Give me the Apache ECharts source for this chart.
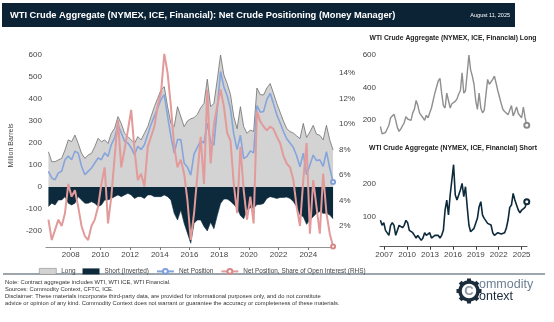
<!DOCTYPE html>
<html>
<head>
<meta charset="utf-8">
<script src="https://cdn.jsdelivr.net/npm/echarts@6/dist/echarts.min.js"></script>
<style>
html,body{margin:0;padding:0;background:#fff;}
#chart{width:554px;height:322px;}
</style>
</head>
<body>
<div id="chart"></div>
<script>
// ---- Data (roughly every 2.7 months, mid-2006 to Aug 2025) ----
const startYear = 2006.5;
const endYear = 2025.67;

// Money-manager long position, million barrels
const longVals = [160,115,115,123,130,168,214,206,236,198,
  153,130,145,153,183,221,206,214,198,244,
  267,320,289,244,229,214,198,229,214,244,
  274,320,365,403,441,456,365,289,274,365,
  320,274,300,310,315,330,360,380,490,365,
  380,486,600,510,470,420,320,265,365,274,
  244,259,252,450,420,418,450,470,426,380,
  340,300,265,252,245,232,220,289,225,250,
  280,240,235,214,280,214,168];

// Money-manager short position, million barrels (shown inverted)
const shortVals = [89,74,82,59,59,44,74,82,74,44,
  59,74,74,67,74,89,82,59,59,52,
  44,36,44,36,29,36,52,44,44,52,
  36,36,44,44,44,36,44,59,120,150,
  105,165,210,256,165,150,150,180,200,160,
  190,130,75,55,55,65,80,95,130,145,
  105,95,97,80,80,75,52,44,48,52,
  48,48,46,52,66,90,128,135,170,150,
  135,120,112,120,120,128,145];

// Net position as share of open interest, %
const shareVals = [2.5,0.9,1.7,2.5,2.0,3.0,5.3,4.3,4.8,3.5,
  2.0,1.2,0.9,2.0,2.5,3.5,5.3,6.6,2.2,4.3,
  7.4,10.3,6.6,8.0,9.5,11.1,8.0,5.6,6.1,5.1,
  8.2,9.0,9.8,11.4,12.4,15.5,14.0,11.4,8.2,6.6,
  7.2,6.1,4.0,0.9,3.0,6.0,9.0,5.3,12.7,6.9,
  10.0,11.4,12.7,11.4,9.3,8.7,5.3,3.0,8.2,4.8,
  2.5,4.3,2.2,11.0,10.2,9.8,9.5,9.8,9.6,9.0,
  8.5,7.5,6.9,6.6,5.6,3.5,2.0,5.6,8.5,1.4,
  5.6,3.5,1.4,6.1,3.0,1.4,0.4];

const mainYearTicks = [2008,2010,2012,2014,2016,2018,2020,2022,2024];
const sideYearTicks = [2007,2010,2013,2016,2019,2022,2025];
const leftTicks = [-200,-100,0,100,200,300,400,500,600];
const rightTicks = [2,4,6,8,10,12,14];
const longPanelTicks = [200,400,600];
const shortPanelTicks = [100,200];

const titleText = 'WTI Crude Aggregate (NYMEX, ICE, Financial): Net Crude Positioning (Money Manager)';
const dateText = 'August 11, 2025';
const legendNames = ['Long','Short (Inverted)','Net Position','Net Position, Share of Open Interest (RHS)'];
const footerLines = [
  'Note: Contract aggregate includes WTI, WTI ICE, WTI Financial.',
  'Sources: Commodity Context, CFTC, ICE.',
  'Disclaimer: These materials incorporate third-party data, are provided for informational purposes only, and do not constitute',
  'advice or opinion of any kind. Commodity Context does not warrant or guarantee the accuracy or completeness of these materials.'
];

// ---- Build series data ----
const n = longVals.length;
const step = (endYear - startYear) / (n - 1);
const years = longVals.map((_, i) => startYear + i * step);
const longData = years.map((y, i) => [y, longVals[i]]);
const shortData = years.map((y, i) => [y, -shortVals[i]]);
const netData = years.map((y, i) => [y, longVals[i] - shortVals[i]]);
const shareData = years.map((y, i) => [y, shareVals[i]]);
const shortPanelData = years.map((y, i) => [y, shortVals[i]]);
const last = n - 1;
const endSym = (size) => (v, p) => (p.dataIndex === last ? size : 0);

const FONT = '"Liberation Sans", Arial, Helvetica, sans-serif';
const NAVY = '#0d2a3c';
const axisLbl = {fontFamily: FONT, fontSize: 8, color: '#444'};

const chart = echarts.init(document.getElementById('chart'), null, {renderer: 'canvas'});

const footerGraphics = footerLines.map((t, i) => ({
  type: 'text', left: 5, top: 279 + i * 7,
  style: {text: t, fontFamily: FONT, fontSize: 5.8, fill: '#333'}
}));

const gearTeeth = [];
for (let k = 0; k < 8; k++) {
  gearTeeth.push({
    type: 'rect', x: 469, y: 291, rotation: k * Math.PI / 4,
    shape: {x: -2, y: -12.5, width: 4, height: 4},
    style: {fill: '#1b2d3d'}
  });
}

chart.setOption({
  animation: false,
  backgroundColor: '#fff',
  textStyle: {fontFamily: FONT},
  grid: [
    {left: 43, top: 44, width: 292, height: 203},
    {left: 380, top: 51.75, width: 147, height: 84.5},
    {left: 380, top: 156.7, width: 147, height: 90}
  ],
  legend: {
    left: 34, top: 263, itemWidth: 17, itemHeight: 6, itemGap: 7,
    textStyle: {fontFamily: FONT, fontSize: 6.4, color: '#444'},
    data: [
      {name: legendNames[0], icon: 'rect', itemStyle: {color: '#d3d3d3', borderColor: '#8a8a8a', borderWidth: 0.6}},
      {name: legendNames[1], icon: 'rect', itemStyle: {color: NAVY}},
      {name: legendNames[2]},
      {name: legendNames[3]}
    ]
  },
  xAxis: [
    {type: 'value', gridIndex: 0, min: 2006.33, max: 2025.8,
     axisLine: {onZero: false, lineStyle: {color: '#777', width: 0.8}},
     axisTick: {customValues: mainYearTicks, length: 3, lineStyle: {color: '#777'}},
     axisLabel: Object.assign({customValues: mainYearTicks, margin: 4, formatter: v => String(v)}, axisLbl),
     splitLine: {show: false}},
    {type: 'value', gridIndex: 1, min: 2006.45, max: 2025.7, show: false},
    {type: 'value', gridIndex: 2, min: 2006.45, max: 2025.7,
     axisLine: {onZero: false, lineStyle: {color: '#333', width: 0.8}},
     axisTick: {customValues: sideYearTicks, length: 3, lineStyle: {color: '#333'}},
     axisLabel: Object.assign({customValues: sideYearTicks, margin: 4, formatter: v => String(v)}, axisLbl),
     splitLine: {show: false}}
  ],
  yAxis: [
    {type: 'value', gridIndex: 0, min: -273, max: 650,
     name: 'Million Barrels', nameLocation: 'middle', nameGap: 22,
     nameTextStyle: {fontFamily: FONT, fontSize: 7, color: '#444'},
     axisLine: {show: false}, axisTick: {show: false}, splitLine: {show: false},
     axisLabel: Object.assign({customValues: leftTicks, margin: 4}, axisLbl)},
    {type: 'value', gridIndex: 0, position: 'right', min: 0.353, max: 16.27,
     axisLine: {show: false}, axisTick: {show: false}, splitLine: {show: false},
     axisLabel: Object.assign({customValues: rightTicks, margin: 4, formatter: v => v + '%'}, axisLbl)},
    {type: 'value', gridIndex: 1, min: 100, max: 620,
     axisLine: {show: false}, axisTick: {show: false}, splitLine: {show: false},
     axisLabel: Object.assign({customValues: longPanelTicks, margin: 4}, axisLbl)},
    {type: 'value', gridIndex: 2, min: 10, max: 280,
     axisLine: {show: false}, axisTick: {show: false}, splitLine: {show: false},
     axisLabel: Object.assign({customValues: shortPanelTicks, margin: 4}, axisLbl)}
  ],
  series: [
    {name: legendNames[0], type: 'line', xAxisIndex: 0, yAxisIndex: 0, data: longData,
     symbol: 'none', itemStyle: {color: '#d3d3d3'},
     lineStyle: {color: '#6e6e6e', width: 0.8},
     areaStyle: {color: '#d3d3d3', opacity: 1}, z: 1},
    {name: legendNames[1], type: 'line', xAxisIndex: 0, yAxisIndex: 0, data: shortData,
     symbol: 'none', itemStyle: {color: NAVY},
     lineStyle: {color: NAVY, width: 0.6},
     areaStyle: {color: NAVY, opacity: 1}, z: 1},
    {name: legendNames[2], type: 'line', xAxisIndex: 0, yAxisIndex: 0, data: netData,
     symbol: 'emptyCircle', symbolSize: endSym(4), showSymbol: true,
     itemStyle: {color: '#7e9fd9', borderWidth: 1},
     lineStyle: {color: '#86a5dc', width: 1.6}, z: 3},
    {name: legendNames[3], type: 'line', xAxisIndex: 0, yAxisIndex: 1, data: shareData,
     symbol: 'emptyCircle', symbolSize: endSym(4), showSymbol: true,
     itemStyle: {color: '#d98686', borderWidth: 1},
     lineStyle: {color: '#e29a9a', width: 2}, z: 4},
    {name: 'Long (panel)', type: 'line', xAxisIndex: 1, yAxisIndex: 2, data: longData,
     symbol: 'emptyCircle', symbolSize: endSym(5), showSymbol: true,
     itemStyle: {color: '#8a8a8a', borderWidth: 1},
     lineStyle: {color: '#8f8f8f', width: 1.4}},
    {name: 'Short (panel)', type: 'line', xAxisIndex: 2, yAxisIndex: 3, data: shortPanelData,
     symbol: 'emptyCircle', symbolSize: endSym(5), showSymbol: true,
     itemStyle: {color: NAVY, borderWidth: 1},
     lineStyle: {color: NAVY, width: 1.6}}
  ],
  graphic: [
    {type: 'rect', shape: {x: 2, y: 3, width: 513, height: 24}, style: {fill: '#0c2335'}, z: 10},
    {type: 'text', x: 10, y: 15, z: 11,
     style: {text: titleText, fontFamily: FONT, fontWeight: 'bold', fontSize: 9.3, fill: '#fff', verticalAlign: 'middle'}},
    {type: 'text', x: 510, y: 15, z: 11,
     style: {text: dateText, fontFamily: FONT, fontSize: 5.5, fill: '#fff', align: 'right', verticalAlign: 'middle'}},
    {type: 'text', x: 453, y: 38, z: 11,
     style: {text: 'WTI Crude Aggregate (NYMEX, ICE, Financial) Long', fontFamily: FONT, fontWeight: 'bold', fontSize: 6.8, fill: '#222', align: 'center', verticalAlign: 'middle'}},
    {type: 'text', x: 453, y: 148, z: 11,
     style: {text: 'WTI Crude Aggregate (NYMEX, ICE, Financial) Short', fontFamily: FONT, fontWeight: 'bold', fontSize: 6.8, fill: '#222', align: 'center', verticalAlign: 'middle'}},
    {type: 'line', shape: {x1: 3, y1: 274, x2: 545, y2: 274}, style: {stroke: '#3d4e5c', lineWidth: 1.2}},
    ...footerGraphics,
    ...gearTeeth,
    {type: 'circle', shape: {cx: 469, cy: 291, r: 9}, style: {fill: 'none', stroke: '#1b2d3d', lineWidth: 3.5}},
    {type: 'text', x: 469, y: 291, style: {text: 'C', fontFamily: FONT, fontWeight: 'bold', fontSize: 13, fill: '#8a96a1', align: 'center', verticalAlign: 'middle'}},
    {type: 'text', x: 479, y: 285, style: {text: 'ommodity', fontFamily: FONT, fontSize: 12.5, fill: '#6d7f90', verticalAlign: 'middle'}},
    {type: 'text', x: 479, y: 297, style: {text: 'ontext', fontFamily: FONT, fontSize: 12.5, fill: '#1b2d3d', verticalAlign: 'middle'}}
  ]
});
</script>
</body>
</html>
